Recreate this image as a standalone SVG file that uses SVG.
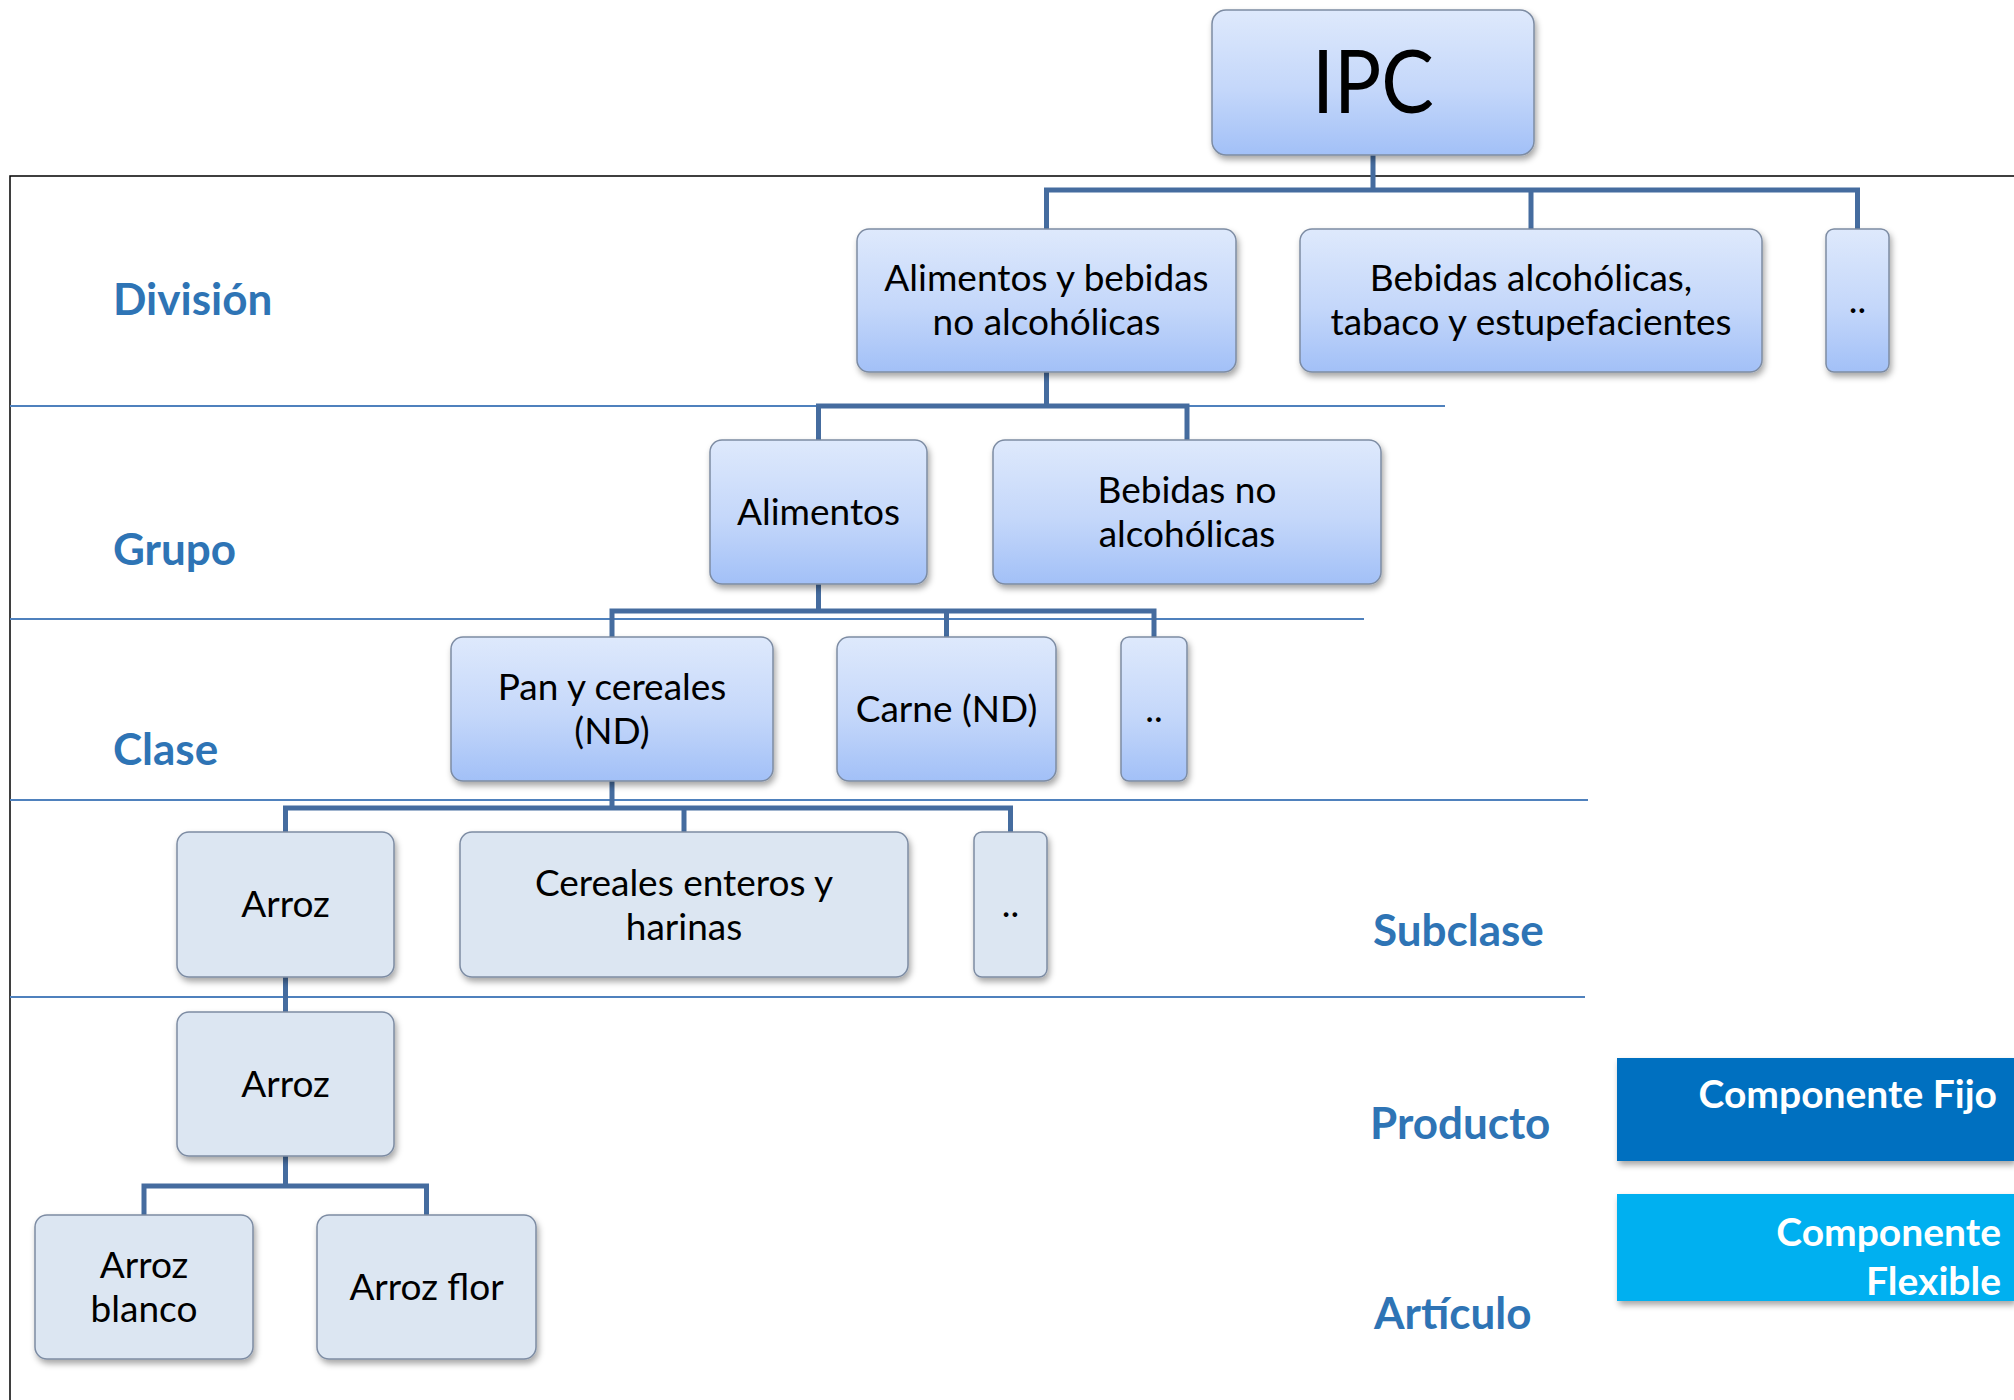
<svg xmlns="http://www.w3.org/2000/svg" width="2014" height="1400" viewBox="0 0 2014 1400">
<defs>
<linearGradient id="g" x1="0" y1="0" x2="0" y2="1">
<stop offset="0" stop-color="#dee9fc"/>
<stop offset="0.55" stop-color="#c4d7fa"/>
<stop offset="1" stop-color="#a2c0f7"/>
</linearGradient>
<filter id="sh" x="-10%" y="-10%" width="125%" height="130%">
<feDropShadow dx="2" dy="4" stdDeviation="3" flood-color="#000" flood-opacity="0.35"/>
</filter>
<style>
.nb{fill:url(#g);stroke:#7d8ca3;stroke-width:1.5;filter:url(#sh)}
.ng{fill:#dce6f2;stroke:#7d8ca3;stroke-width:1.5;filter:url(#sh)}
.t{font-family:Lato,"Open Sans",sans-serif;font-size:37px;fill:#000;text-anchor:middle}
.lab{font-family:Lato,"Open Sans",sans-serif;font-size:44px;font-weight:bold;fill:#2e74b5}
.cmp{font-family:Lato,"Open Sans",sans-serif;font-size:39px;font-weight:bold;fill:#fff;text-anchor:end}
.sep{stroke:#4f81bd;stroke-width:2;fill:none}
.con{stroke:#456c9f;stroke-width:5;fill:none}
</style>
</defs>
<rect width="2014" height="1400" fill="#fff"/>
<g id="frame">
<path d="M10 1400 V176 H2014" stroke="#000" stroke-width="1.5" fill="none"/>
<line class="sep" x1="10" y1="406" x2="1445" y2="406"/>
<line class="sep" x1="10" y1="619" x2="1364" y2="619"/>
<line class="sep" x1="10" y1="800" x2="1588" y2="800"/>
<line class="sep" x1="10" y1="997" x2="1585" y2="997"/>
<line x1="10" y1="1178" x2="2014" y2="1178" stroke="#000" stroke-width="5" filter="url(#sh)"/>
</g>
<g id="labels">
<text class="lab" x="113" y="315">División</text>
<text class="lab" x="113" y="565">Grupo</text>
<text class="lab" x="113" y="765">Clase</text>
<text class="lab" x="1373" y="946">Subclase</text>
<text class="lab" x="1370" y="1139">Producto</text>
<text class="lab" x="1374" y="1329">Artículo</text>
</g>
<g id="connectors">
<path class="con" d="M1373 155 V190 M1046.5 229 V190 H1857.5 V229 M1531 190 V229"/>
<path class="con" d="M1046.5 372 V406 M818.5 440 V406 H1187 V440"/>
<path class="con" d="M818.5 584 V611 M612 637 V611 H1154 V637 M946.5 611 V637"/>
<path class="con" d="M612 781 V808 M285.5 832 V808 H1010.5 V832 M684 808 V832"/>
<path class="con" d="M285.5 977 V1012"/>
<path class="con" d="M285.5 1156 V1186 M144 1215 V1186 H426.5 V1215"/>
</g>
<g id="n-ipc"><rect class="nb" x="1212" y="10" width="322" height="145" rx="14"/><text class="t" x="1373" y="113" style="font-size:88px" textLength="122" lengthAdjust="spacingAndGlyphs">IPC</text></g>
<g id="n-div1"><rect class="nb" x="857" y="229" width="379" height="143" rx="12"/><text class="t" x="1046.5" y="291">Alimentos y bebidas</text><text class="t" x="1046.5" y="335">no alcohólicas</text></g>
<g id="n-div2"><rect class="nb" x="1300" y="229" width="462" height="143" rx="12"/><text class="t" x="1531" y="291">Bebidas alcohólicas,</text><text class="t" x="1531" y="335">tabaco y estupefacientes</text></g>
<g id="n-div3"><rect class="nb" x="1826" y="229" width="63" height="143" rx="8"/><text class="t" x="1857.5" y="313">..</text></g>
<g id="n-gr1"><rect class="nb" x="710" y="440" width="217" height="144" rx="12"/><text class="t" x="818.5" y="525">Alimentos</text></g>
<g id="n-gr2"><rect class="nb" x="993" y="440" width="388" height="144" rx="12"/><text class="t" x="1187" y="503">Bebidas no</text><text class="t" x="1187" y="547">alcohólicas</text></g>
<g id="n-cl1"><rect class="nb" x="451" y="637" width="322" height="144" rx="12"/><text class="t" x="612" y="700">Pan y cereales</text><text class="t" x="612" y="744">(ND)</text></g>
<g id="n-cl2"><rect class="nb" x="837" y="637" width="219" height="144" rx="12"/><text class="t" x="946.5" y="722">Carne (ND)</text></g>
<g id="n-cl3"><rect class="nb" x="1121" y="637" width="66" height="144" rx="8"/><text class="t" x="1154" y="722">..</text></g>
<g id="n-sc1"><rect class="ng" x="177" y="832" width="217" height="145" rx="12"/><text class="t" x="285.5" y="917">Arroz</text></g>
<g id="n-sc2"><rect class="ng" x="460" y="832" width="448" height="145" rx="12"/><text class="t" x="684" y="896">Cereales enteros y</text><text class="t" x="684" y="940">harinas</text></g>
<g id="n-sc3"><rect class="ng" x="974" y="832" width="73" height="145" rx="8"/><text class="t" x="1010.5" y="917">..</text></g>
<g id="n-pr1"><rect class="ng" x="177" y="1012" width="217" height="144" rx="12"/><text class="t" x="285.5" y="1097">Arroz</text></g>
<g id="n-ar1"><rect class="ng" x="35" y="1215" width="218" height="144" rx="12"/><text class="t" x="144" y="1278">Arroz</text><text class="t" x="144" y="1322">blanco</text></g>
<g id="n-ar2"><rect class="ng" x="317" y="1215" width="219" height="144" rx="12"/><text class="t" x="426.5" y="1300">Arroz flor</text></g>
<g id="n-fijo"><rect x="1617" y="1058" width="397" height="103" fill="#0070c0" filter="url(#sh)"/><text class="cmp" x="1997" y="1108">Componente Fijo</text></g>
<g id="n-flex"><rect x="1617" y="1194" width="397" height="107" fill="#00b0f0" filter="url(#sh)"/><text class="cmp" x="2001" y="1246">Componente</text><text class="cmp" x="2001" y="1295">Flexible</text></g>
</svg>
